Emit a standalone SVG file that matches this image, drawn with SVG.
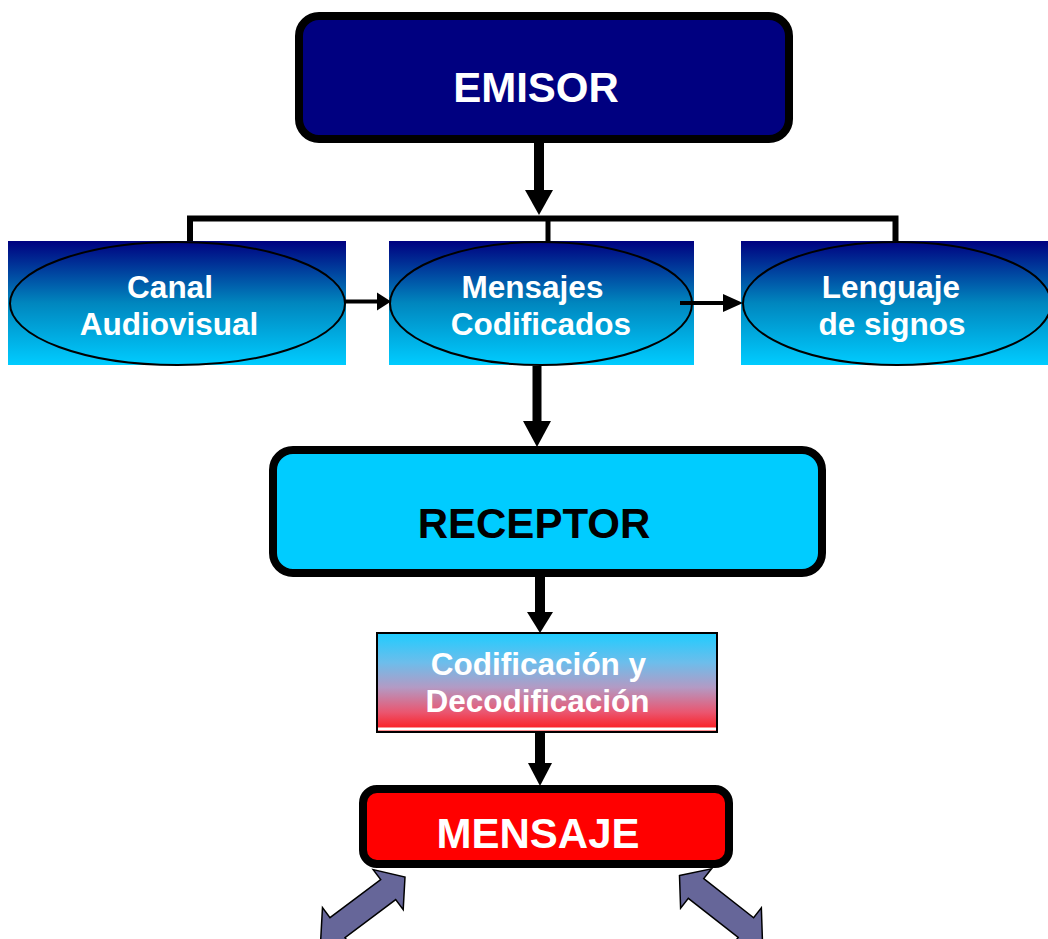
<svg xmlns="http://www.w3.org/2000/svg" width="1048" height="939" viewBox="0 0 1048 939">
<defs>
<linearGradient id="gBlue" x1="0" y1="0" x2="0" y2="1">
<stop offset="0" stop-color="#000080"/>
<stop offset="0.5" stop-color="#0086BE"/>
<stop offset="1" stop-color="#00CCFF"/>
</linearGradient>
<linearGradient id="gCod" x1="0" y1="0" x2="0" y2="1">
<stop offset="0" stop-color="#1ECCFF"/>
<stop offset="0.3" stop-color="#6DBDEB"/>
<stop offset="0.55" stop-color="#B39AC4"/>
<stop offset="0.8" stop-color="#EA5670"/>
<stop offset="1" stop-color="#FF1515"/>
</linearGradient>
<polygon id="dbl" points="0,0 21,-25 21,-12.5 84.4,-12.5 84.4,-25 105.4,0 84.4,25 84.4,12.5 21,12.5 21,25"/>
</defs>
<style>
.lbl{font-family:"Liberation Sans",Arial,sans-serif;font-weight:bold;text-anchor:middle}
.w{fill:#FFFFFF}
.k{fill:#000000}
.big{font-size:42px}
.mid{font-size:31.5px}
.box{stroke:#000;stroke-width:8}
.ell{fill:none;stroke:#000;stroke-width:2}
.ln{stroke:#000;fill:none}
.head{fill:#000}
.dbl{fill:#666699;stroke:#000;stroke-width:1.5;stroke-linejoin:miter}
</style>

<g id="emisor">
<rect class="box" x="299" y="16" width="490" height="123" rx="20" fill="#000080"/>
<text class="lbl w big" x="536" y="102">EMISOR</text>
</g>

<g id="canal">
<rect x="8" y="241" width="338" height="124" fill="url(#gBlue)"/>
<ellipse class="ell" cx="177.5" cy="303.5" rx="167.5" ry="61.5"/>
<text class="lbl w mid" x="170" y="298">Canal</text>
<text class="lbl w mid" x="169" y="335">Audiovisual</text>
</g>

<g id="mensajes">
<rect x="389" y="241" width="305" height="124" fill="url(#gBlue)"/>
<ellipse class="ell" cx="541" cy="303.5" rx="151" ry="61.5"/>
<text class="lbl w mid" x="532.5" y="298">Mensajes</text>
<text class="lbl w mid" x="541" y="335">Codificados</text>
</g>

<g id="lenguaje">
<rect x="741" y="241" width="307" height="124" fill="url(#gBlue)"/>
<ellipse class="ell" cx="897" cy="303.5" rx="154" ry="61.5"/>
<text class="lbl w mid" x="891" y="298">Lenguaje</text>
<text class="lbl w mid" x="892" y="335">de signos</text>
</g>

<g id="receptor">
<rect class="box" x="273" y="450" width="549" height="123" rx="20" fill="#00CCFF"/>
<text class="lbl k big" x="534" y="538">RECEPTOR</text>
</g>

<g id="codificacion">
<rect x="377" y="633" width="340" height="99" fill="url(#gCod)"/>
<rect x="377" y="727.5" width="340" height="3" fill="#FFFFFF"/>
<rect x="377" y="633" width="340" height="99" fill="none" stroke="#000" stroke-width="2"/>
<text class="lbl w mid" x="538.5" y="675">Codificación y</text>
<text class="lbl w mid" x="537.5" y="712">Decodificación</text>
</g>

<g id="mensaje">
<rect class="box" x="363" y="789" width="366" height="75" rx="14" fill="#FF0000"/>
<text class="lbl w big" x="538" y="848">MENSAJE</text>
</g>

<g id="connectors">
<line class="ln" x1="539" y1="143" x2="539" y2="192" stroke-width="10"/>
<polygon class="head" points="525,190 553,190 539,215"/>
<polyline class="ln" points="190,241 190,218.5 895.5,218.5 895.5,241" stroke-width="6"/>
<line class="ln" x1="548" y1="218" x2="548" y2="242" stroke-width="5"/>
<line class="ln" x1="345" y1="301.5" x2="379" y2="301.5" stroke-width="4"/>
<polygon class="head" points="377,292.5 377,310.5 391,301.5"/>
<line class="ln" x1="680" y1="303" x2="725" y2="303" stroke-width="4"/>
<polygon class="head" points="723,294 723,312 743,303"/>
<line class="ln" x1="537" y1="366" x2="537" y2="423" stroke-width="9"/>
<polygon class="head" points="523,421 551,421 537,447"/>
<line class="ln" x1="540" y1="577" x2="540" y2="614" stroke-width="10"/>
<polygon class="head" points="527,612 553,612 540,633"/>
<line class="ln" x1="540" y1="733" x2="540" y2="765" stroke-width="10"/>
<polygon class="head" points="528,763 552,763 540,786"/>
<use href="#dbl" class="dbl" transform="translate(405,877) rotate(143.13)"/>
<use href="#dbl" class="dbl" transform="translate(679.5,875.5) rotate(38.1)"/>
</g>
</svg>
